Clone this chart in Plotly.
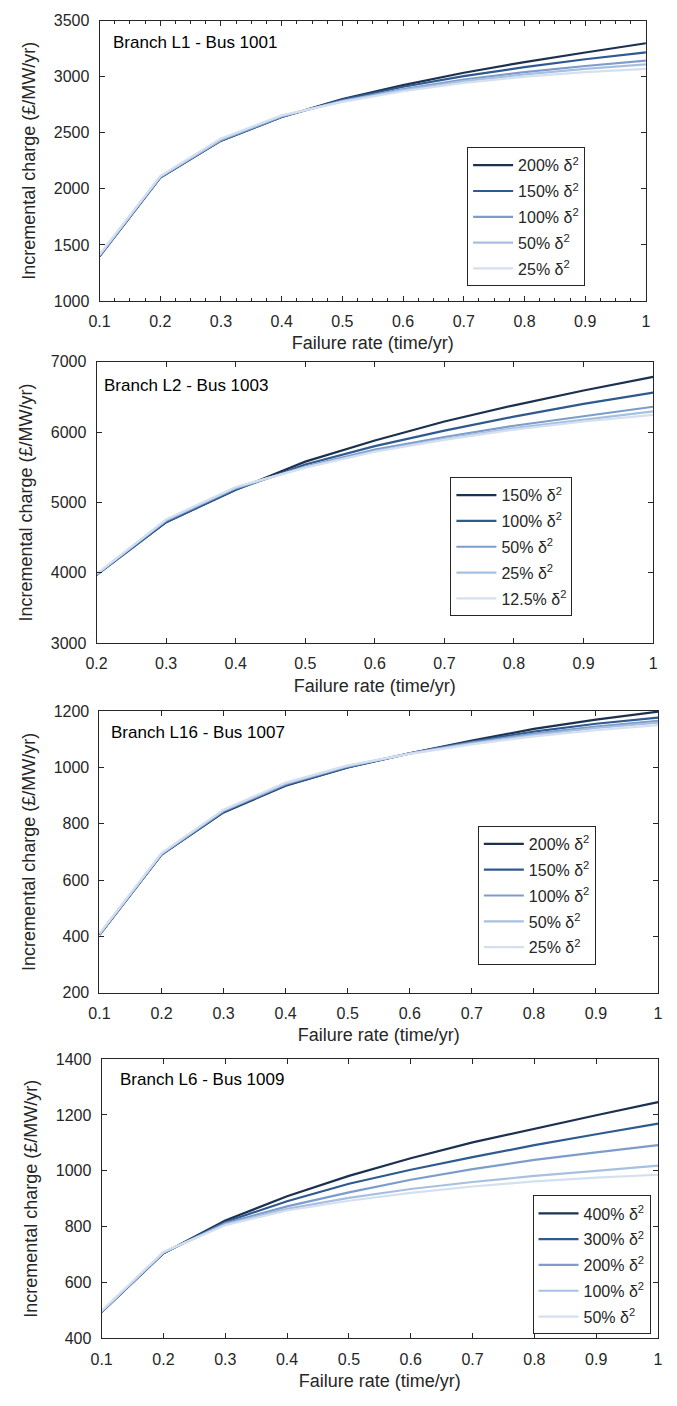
import plotly.graph_objects as go

# ---- data -------------------------------------------------------------
rate_a = [0.1, 0.2, 0.3, 0.4, 0.5, 0.6, 0.7, 0.8, 0.9, 1.0]
rate_b = [0.2, 0.3, 0.4, 0.5, 0.6, 0.7, 0.8, 0.9, 1.0]

# Branch L1 - Bus 1001
l1_labels = ["200%", "150%", "100%", "50%", "25%"]
l1_200 = [1400, 2100, 2430, 2640, 2800, 2925, 3035, 3130, 3215, 3298]
l1_150 = [1400, 2100, 2430, 2640, 2795, 2910, 3005, 3085, 3155, 3216]
l1_100 = [1405, 2105, 2435, 2645, 2785, 2890, 2975, 3040, 3095, 3143]
l1_50 = [1410, 2110, 2440, 2650, 2780, 2880, 2960, 3020, 3070, 3110]
l1_25 = [1415, 2115, 2450, 2655, 2775, 2870, 2945, 3000, 3040, 3070]

# Branch L2 - Bus 1003
l2_labels = ["150%", "100%", "50%", "25%", "12.5%"]
l2_150 = [3970, 4720, 5180, 5580, 5880, 6150, 6380, 6590, 6785]
l2_100 = [3970, 4720, 5180, 5540, 5800, 6020, 6220, 6400, 6560]
l2_50 = [3975, 4740, 5200, 5510, 5750, 5930, 6090, 6230, 6360]
l2_25 = [3980, 4750, 5210, 5500, 5730, 5905, 6055, 6180, 6295]
l2_12 = [3985, 4760, 5220, 5495, 5720, 5890, 6035, 6150, 6245]

# Branch L16 - Bus 1007
l16_labels = ["200%", "150%", "100%", "50%", "25%"]
l16_200 = [405, 690, 840, 935, 1000, 1050, 1095, 1137, 1170, 1198]
l16_150 = [405, 690, 842, 937, 1000, 1050, 1092, 1127, 1155, 1177]
l16_100 = [407, 692, 845, 940, 1003, 1050, 1088, 1120, 1145, 1165]
l16_50 = [408, 694, 848, 943, 1005, 1049, 1085, 1115, 1140, 1159]
l16_25 = [410, 696, 850, 946, 1007, 1048, 1082, 1110, 1132, 1150]

# Branch L6 - Bus 1009
l6_labels = ["400%", "300%", "200%", "100%", "50%"]
l6_400 = [495, 705, 822, 909, 982, 1045, 1102, 1151, 1199, 1246]
l6_300 = [495, 705, 817, 891, 954, 1004, 1049, 1092, 1131, 1169]
l6_200 = [496, 707, 812, 873, 923, 968, 1006, 1039, 1066, 1092]
l6_100 = [497, 708, 808, 864, 903, 935, 960, 982, 1000, 1019]
l6_50 = [498, 710, 805, 858, 893, 921, 944, 962, 976, 986]

titles = ["Branch L1 - Bus 1001", "Branch L2 - Bus 1003",
          "Branch L16 - Bus 1007", "Branch L6 - Bus 1009"]
y_ranges = [[1000, 3500], [3000, 7000], [200, 1200], [400, 1400]]
y_steps = [500, 1000, 200, 200]
x_ranges = [[0.1, 1], [0.2, 1], [0.1, 1], [0.1, 1]]

# ---- styling ------------------------------------------------------------
W, H = 677, 1406
FONT = "Liberation Sans, Arial, Helvetica, sans-serif"
AX = "#262626"
shades = ["#1c304f", "#2f5a8f", "#7c9dcb", "#a8c0e0", "#d4e0f0"]

# plot boxes in pixels: left, right, top, bottom
boxes = [
    (90.7, 650.3, 12.7, 296.7),
    (87.6, 657.7, 358.0, 643.0),
    (90.6, 662.7, 711.7, 996.7),
    (92.8, 662.7, 1064.0, 1346.7),
]
# legend box: right edge, top edge (pixels)
legend_pos = [(588, 141), (575, 475), (599, 828), (655, 1202)]
# title text: left edge, vertical centre (pixels)
title_pos = [(102, 35), (93, 382), (100, 733), (110, 1085)]


def px_x(v):
    return v / W


def px_y(v):
    return 1 - v / H


panels = [
    (rate_a, l1_labels, [l1_200, l1_150, l1_100, l1_50, l1_25]),
    (rate_b, l2_labels, [l2_150, l2_100, l2_50, l2_25, l2_12]),
    (rate_a, l16_labels, [l16_200, l16_150, l16_100, l16_50, l16_25]),
    (rate_a, l6_labels, [l6_400, l6_300, l6_200, l6_100, l6_50]),
]

fig = go.Figure()
layout = dict(
    width=W, height=H,
    margin=dict(l=0, r=0, t=0, b=0),
    paper_bgcolor="white", plot_bgcolor="white",
    font=dict(family=FONT, color=AX, size=16),
    annotations=[],
)

for i, (xs, labels, series) in enumerate(panels):
    n = i + 1
    xa = "x" if n == 1 else f"x{n}"
    ya = "y" if n == 1 else f"y{n}"
    leg = "legend" if n == 1 else f"legend{n}"
    for j, (lab, ys) in enumerate(zip(labels, series)):
        fig.add_trace(go.Scatter(
            x=xs, y=ys, mode="lines",
            name=f"{lab} δ<sup>2</sup>",
            line=dict(color=shades[j], width=2.2),
            xaxis=xa, yaxis=ya, legend=leg,
            legendgroup=f"p{n}s{j}",
        ))

    l, r, t, b = boxes[i]
    xkey = "xaxis" if n == 1 else f"xaxis{n}"
    ykey = "yaxis" if n == 1 else f"yaxis{n}"
    xdict = dict(
        domain=[px_x(l), px_x(r)], range=x_ranges[i],
        anchor=ya, tick0=0.1, dtick=0.1,
        ticks="inside", ticklen=5, tickcolor=AX, tickwidth=1,
        showline=True, linecolor=AX, linewidth=1, mirror="ticks",
        showgrid=False, zeroline=False,
        tickfont=dict(size=16, color=AX),
        ticklabelstandoff=6,
        title=dict(text="Failure rate (time/yr)", standoff=7,
                   font=dict(size=18, color=AX)),
    )
    if n == 1:
        xdict["minor"] = dict(dtick=0.025, tick0=0.1, ticks="inside",
                              ticklen=3, tickcolor=AX, showgrid=False)
    ydict = dict(
        domain=[px_y(b), px_y(t)], range=y_ranges[i],
        anchor=xa, dtick=y_steps[i],
        ticks="inside", ticklen=5, tickcolor=AX, tickwidth=1,
        showline=True, linecolor=AX, linewidth=1, mirror="ticks",
        showgrid=False, zeroline=False,
        tickfont=dict(size=16, color=AX),
        ticklabelstandoff=6,
        title=dict(text="Incremental charge (£/MW/yr)", standoff=13,
                   font=dict(size=18, color=AX)),
    )
    layout[xkey] = xdict
    layout[ykey] = ydict

    lx, ly = legend_pos[i]
    layout[leg] = dict(
        x=px_x(lx), xanchor="right", y=px_y(ly), yanchor="top",
        bgcolor="white", bordercolor=AX, borderwidth=1,
        font=dict(size=16, color=AX, family=FONT),
        tracegroupgap=2, itemwidth=40,
    )

    tx, ty = title_pos[i]
    layout["annotations"].append(dict(
        text=titles[i], xref="paper", yref="paper",
        x=px_x(tx), y=px_y(ty), xanchor="left", yanchor="middle",
        showarrow=False, font=dict(size=17, color="black", family=FONT),
    ))

fig.update_layout(**layout)
fig.write_html("out.html")
